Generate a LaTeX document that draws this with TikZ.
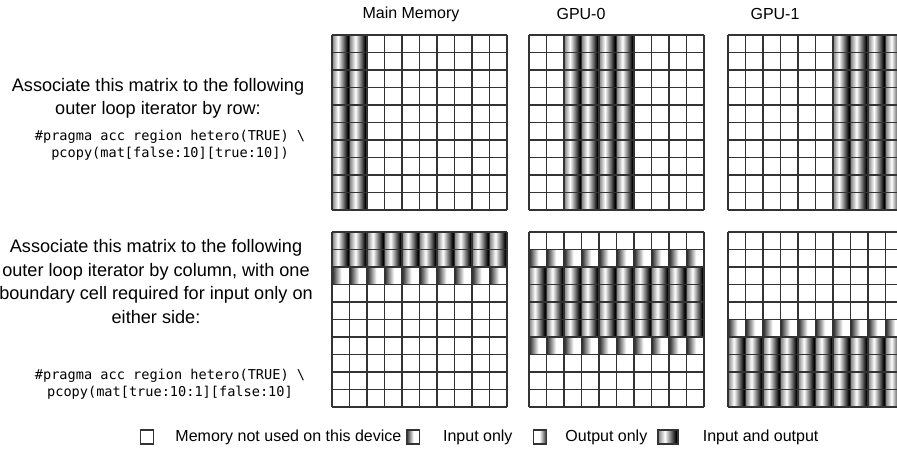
\documentclass[tikz,border=0pt]{standalone}
\usepackage{fontspec}
\setmainfont{Liberation Sans}
\setmonofont{DejaVu Sans Mono}
\usetikzlibrary{positioning}

% shadings for the cells
\pgfdeclarehorizontalshading{inout}{100bp}{color(0bp)=(black!50); color(25bp)=(black!50); color(42bp)=(white); color(70bp)=(black); color(100bp)=(black)}
\pgfdeclarehorizontalshading{inonly}{100bp}{color(0bp)=(black!85); color(25bp)=(black!85); color(52bp)=(white); color(100bp)=(white)}
\pgfdeclarehorizontalshading{outonly}{100bp}{color(0bp)=(white); color(48bp)=(white); color(75bp)=(black!85); color(100bp)=(black!85)}

\begin{document}
\begin{tikzpicture}[%
        x=0.75pt, y=-0.75pt,
        header/.style={font=\fontsize{12}{14}\selectfont},
        note/.style={align=center, font=\fontsize{13.6}{17.6}\selectfont},
        code/.style={align=center, font=\ttfamily\fontsize{10.2}{12.8}\selectfont},
        gridline/.style={draw=black!80, line width=0.8pt},
        key/.style={draw=black!80, line width=0.8pt, inner sep=0pt, minimum width=10pt, minimum height=10.5pt},
        keytext/.style={font=\fontsize{12}{14}\selectfont, inner sep=0pt}]
        \useasboundingbox (0,0) rectangle (897,455);

        % Headers
        \node [header] (mainhdr) at (411,14) {Main Memory};
        \node [header] (gpuzerohdr) at (581,14) {GPU-0};
        \node [header] (gpuonehdr) at (775,14) {GPU-1};

        % Left texts
        \node [note] (rownote) at (158,98.5) {Associate this matrix to the following\\outer loop iterator by row:};
        \node [code] (rowcode) at (170,145.5) {\#pragma acc region hetero(TRUE) \textbackslash\\pcopy(mat[false:10][true:10])};
        \node [note] (colnote) at (156,281.5) {Associate this matrix to the following\\outer loop iterator by column, with one\\boundary cell required for input only on\\either side:};
        \node [code] (colcode) at (170,384) {\#pragma acc region hetero(TRUE) \textbackslash\\pcopy(mat[true:10:1][false:10]};

        % Shaded cells, by row (columns)
        \foreach \gx/\from/\to in {332/0/1, 529/2/5, 728/6/9}
            \foreach \c in {\from,...,\to}
                \shade [shading=inout] (\gx+\c*17.5,35) rectangle ++(17.5,175);

        % Shaded cells, by column (rows)
        \foreach \gx/\from/\to/\s in {332/0/1/inout, 332/2/2/inonly, 529/1/1/inonly, 529/2/5/inout, 529/6/6/inonly, 728/5/5/inonly, 728/6/9/inout}
            \foreach \r in {\from,...,\to}
                \foreach \c in {0,...,9}
                    \shade [shading=\s] (\gx+\c*17.5,232+\r*17.5) rectangle ++(17.5,17.5);

        % Grids
        \foreach \gx in {332,529,728}
            \foreach \gy in {35,232}
                \foreach \i in {0,...,10} {
                    \draw [gridline] (\gx+\i*17.5,\gy) -- ++(0,175);
                    \draw [gridline] (\gx,\gy+\i*17.5) -- ++(175,0);
                }

        % Legend
        \node [key] (keynone) at (147,437) {};
        \node [keytext, right=15.75pt of keynone] (txtnone) {Memory not used on this device};
        \node [key, shade, shading=inonly] (keyin) at (413,437) {};
        \node [keytext, right=17pt of keyin] (txtin) {Input only};
        \node [key, shade, shading=outonly] (keyout) at (540,437) {};
        \node [keytext, right=13.5pt of keyout] (txtout) {Output only};
        \node [key, shade, shading=inout, minimum width=15pt] (keyinout) at (668,437) {};
        \node [keytext, right=18pt of keyinout] (txtinout) {Input and output};
    \end{tikzpicture}
\end{document}
